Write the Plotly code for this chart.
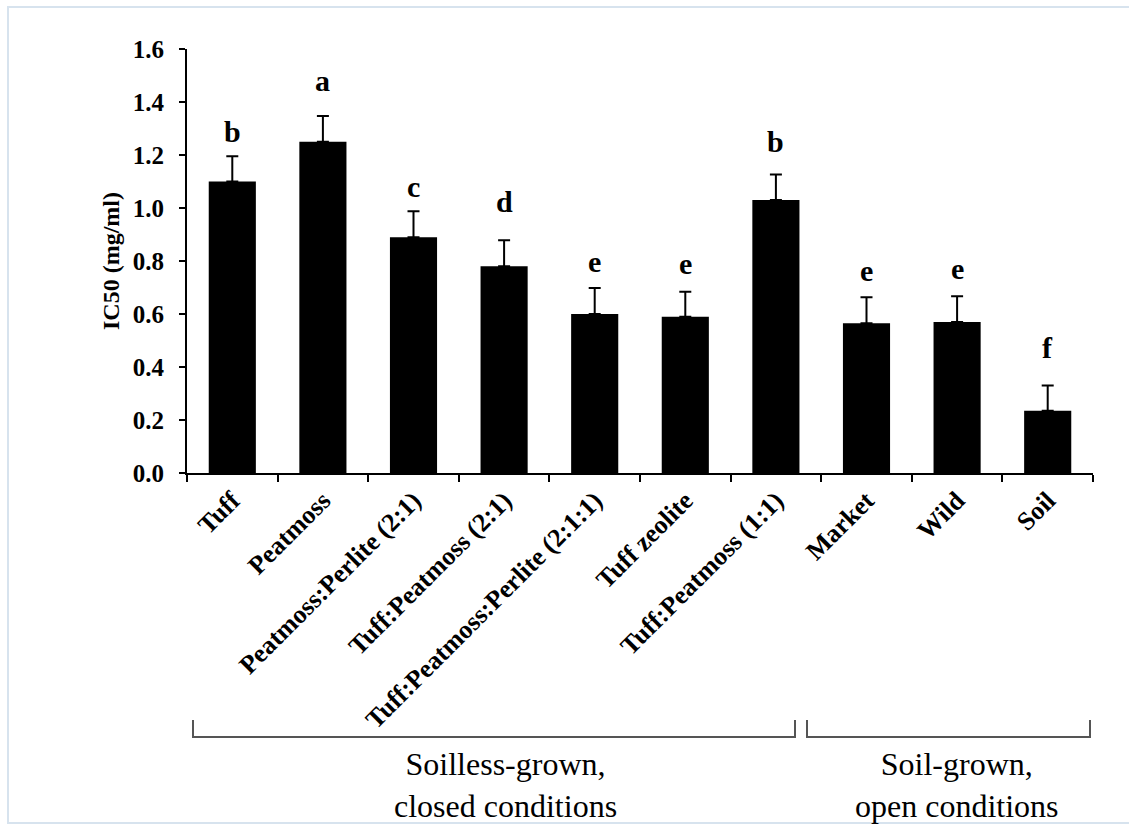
import plotly.graph_objects as go

categories = ["Tuff", "Peatmoss", "Peatmoss:Perlite (2:1)", "Tuff:Peatmoss (2:1)",
              "Tuff:Peatmoss:Perlite (2:1:1)", "Tuff zeolite", "Tuff:Peatmoss (1:1)",
              "Market", "Wild", "Soil"]
ic50 = [1.10, 1.25, 0.89, 0.78, 0.60, 0.59, 1.03, 0.565, 0.57, 0.235]
sd = [0.095, 0.097, 0.098, 0.098, 0.098, 0.094, 0.096, 0.098, 0.097, 0.095]
letters = ["b", "a", "c", "d", "e", "e", "b", "e", "e", "f"]
letter_y = [1.246, 1.439, 1.038, 0.981, 0.758, 0.747, 1.208, 0.724, 0.731, 0.430]
group_labels = ["Soilless-grown,<br>closed conditions", "Soil-grown,<br>open conditions"]
y_ticks = [0.0, 0.2, 0.4, 0.6, 0.8, 1.0, 1.2, 1.4, 1.6]

SERIF = "Liberation Serif, Times New Roman, serif"

fig = go.Figure()
fig.add_trace(go.Bar(
    x=categories, y=ic50,
    marker=dict(color="black", line=dict(width=0)),
    error_y=dict(type="data", symmetric=False, array=sd, arrayminus=[0] * len(sd),
                 color="black", thickness=2, width=6),
    width=0.52,
    showlegend=False,
))

annotations = []
for c, l, ly in zip(categories, letters, letter_y):
    annotations.append(dict(x=c, y=ly - 0.028, xref="x", yref="y", text=l,
                            showarrow=False, yanchor="bottom",
                            font=dict(family=SERIF, size=30, color="black", weight="bold")))

# group brackets (paper coords)
plot_top, plot_bot, plot_l, plot_w = 49, 473, 187, 906
def px(x):
    return (x - plot_l) / plot_w
def py(y):
    return (plot_bot - y) / (plot_bot - plot_top)

shapes = []
for x0, x1 in [(193, 795), (807, 1090)]:
    shapes.append(dict(type="path", xref="paper", yref="paper",
                       path=f"M {px(x0)},{py(720)} L {px(x0)},{py(737)} L {px(x1)},{py(737)} L {px(x1)},{py(720)}",
                       line=dict(color="#555555", width=2)))
# faint frame
shapes.append(dict(type="rect", xref="paper", yref="paper",
                   x0=px(8), x1=px(1250), y0=py(823), y1=py(7),
                   line=dict(color="#d7e3ee", width=2), layer="below"))

for lbl, cx in zip(group_labels, [505, 957]):
    annotations.append(dict(x=px(cx), y=py(785), xref="paper", yref="paper", text=lbl,
                            showarrow=False, xanchor="center", yanchor="middle",
                            font=dict(family=SERIF, size=32, color="black")))

fig.update_layout(
    width=1129, height=826, autosize=False,
    margin=dict(l=187, r=36, t=49, b=353),
    paper_bgcolor="white", plot_bgcolor="white",
    bargap=0.48,
    annotations=annotations, shapes=shapes,
    xaxis=dict(showline=True, linecolor="black", linewidth=2, ticks="outside",
               tickson="boundaries", ticklen=7, tickwidth=2, tickcolor="black",
               tickangle=-45, showgrid=False, zeroline=False,
               tickfont=dict(family=SERIF, size=26, color="black", weight="bold")),
    yaxis=dict(range=[0, 1.6], tickvals=y_ticks, tickformat=".1f",
               showline=True, linecolor="black", linewidth=2, ticks="outside",
               ticklen=6, tickwidth=2, tickcolor="black", showgrid=False, zeroline=False,
               ticklabelstandoff=10,
               tickfont=dict(family=SERIF, size=25, color="black", weight="bold"),
               title=dict(text="IC50 (mg/ml)", standoff=6,
                          font=dict(family=SERIF, size=24, color="black", weight="bold"))),
)

fig.write_html("out.html", config={"displayModeBar": False},
               post_script="document.body.style.margin='0';")
